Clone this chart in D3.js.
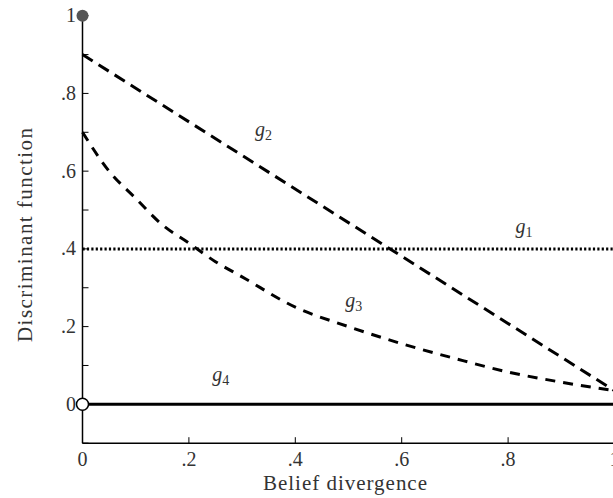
<!DOCTYPE html>
<meta charset="utf-8">
<style>
  body { margin: 0; background: #fff; }
  svg text { font-family: "Liberation Serif", "DejaVu Serif", serif; fill: #333; }
</style>
<body>
<script src="https://d3js.org/d3.v7.min.js"></script>
<script>
  // data
  var xTicks = [0, 0.2, 0.4, 0.6, 0.8, 1];
  var xTickLabels = ["0", ".2", ".4", ".6", ".8", "1"];
  var yTicks = [0, 0.2, 0.4, 0.6, 0.8, 1];
  var yTickLabels = ["0", ".2", ".4", ".6", ".8", "1"];
  var yMinorTicks = [-0.1, 0.1, 0.3, 0.5, 0.7, 0.9];

  var g1 = [[0, 0.4], [1, 0.4]];
  var g2 = [[0, 0.9], [1, 0.035]];
  var g3 = [[0, 0.70], [0.05, 0.60], [0.1, 0.53], [0.15, 0.462], [0.2, 0.415], [0.25, 0.367],
            [0.3, 0.328], [0.4, 0.25], [0.5, 0.20], [0.6, 0.156], [0.7, 0.118],
            [0.8, 0.083], [0.9, 0.057], [1, 0.035]];
  var g4 = [[0, 0], [1, 0]];

  var labels = [
    { sub: "2", x: 0.34, y: 0.69 },
    { sub: "1", x: 0.83, y: 0.44 },
    { sub: "3", x: 0.51, y: 0.25 },
    { sub: "4", x: 0.26, y: 0.06 }
  ];

  var W = 613, H = 498;
  var x = d3.scaleLinear().domain([0, 1]).range([82.5, 614.5]);
  var y = d3.scaleLinear().domain([-0.1, 1]).range([443.2, 15.7]);

  var svg = d3.select("body").append("svg")
    .attr("width", W).attr("height", H);

  // axes
  svg.append("line")
    .attr("x1", x(0)).attr("x2", x(1))
    .attr("y1", y(-0.1)).attr("y2", y(-0.1))
    .attr("stroke", "#000").attr("stroke-width", 1.5);
  svg.append("line")
    .attr("x1", x(0)).attr("x2", x(0))
    .attr("y1", y(-0.1)).attr("y2", y(1))
    .attr("stroke", "#000").attr("stroke-width", 1.5);

  // x ticks
  svg.selectAll(".xt").data(xTicks).enter().append("line")
    .attr("x1", function (d) { return x(d); }).attr("x2", function (d) { return x(d); })
    .attr("y1", y(-0.1)).attr("y2", y(-0.1) - 6)
    .attr("stroke", "#000").attr("stroke-width", 1);
  svg.selectAll(".xl").data(xTicks).enter().append("text")
    .attr("x", function (d) { return x(d); })
    .attr("y", 466)
    .attr("text-anchor", "middle")
    .style("font-size", "20px")
    .text(function (d, i) { return xTickLabels[i]; });

  // y ticks
  svg.selectAll(".yt").data(yTicks.concat(yMinorTicks)).enter().append("line")
    .attr("x1", x(0)).attr("x2", x(0) + 6)
    .attr("y1", function (d) { return y(d); }).attr("y2", function (d) { return y(d); })
    .attr("stroke", "#000").attr("stroke-width", 1);
  svg.selectAll(".yl").data(yTicks).enter().append("text")
    .attr("x", 76)
    .attr("y", function (d) { return y(d) + 6.5; })
    .attr("text-anchor", "end")
    .style("font-size", "20px")
    .text(function (d, i) { return yTickLabels[i]; });

  // axis titles
  svg.append("text")
    .attr("x", 345).attr("y", 490)
    .attr("text-anchor", "middle")
    .attr("textLength", 164).attr("lengthAdjust", "spacing")
    .style("font-size", "21px")
    .text("Belief divergence");
  svg.append("text")
    .attr("transform", "translate(32,235) rotate(-90)")
    .attr("text-anchor", "middle")
    .attr("textLength", 214).attr("lengthAdjust", "spacing")
    .style("font-size", "21px")
    .text("Discriminant function");

  // curves
  var line = d3.line()
    .x(function (d) { return x(d[0]); })
    .y(function (d) { return y(d[1]); })
    .curve(d3.curveMonotoneX);

  svg.append("path").datum(g4).attr("d", line)
    .attr("fill", "none").attr("stroke", "#000").attr("stroke-width", 3);
  svg.append("path").datum(g1).attr("d", line)
    .attr("fill", "none").attr("stroke", "#000").attr("stroke-width", 3)
    .attr("stroke-dasharray", "2.2,2.2");
  svg.append("path").datum(g2).attr("d", line)
    .attr("fill", "none").attr("stroke", "#000").attr("stroke-width", 3)
    .attr("stroke-dasharray", "12,7");
  svg.append("path").datum(g3).attr("d", line)
    .attr("fill", "none").attr("stroke", "#000").attr("stroke-width", 3)
    .attr("stroke-dasharray", "10,8");

  // end points
  svg.append("circle")
    .attr("cx", x(0)).attr("cy", y(1)).attr("r", 6)
    .attr("fill", "#555");
  svg.append("circle")
    .attr("cx", x(0)).attr("cy", y(0)).attr("r", 6)
    .attr("fill", "#fff").attr("stroke", "#000").attr("stroke-width", 1.5);

  // curve labels
  labels.forEach(function (l) {
    var t = svg.append("text")
      .attr("x", x(l.x)).attr("y", y(l.y))
      .attr("text-anchor", "middle")
      .style("font-size", "20px");
    t.append("tspan").style("font-style", "italic").text("g");
    t.append("tspan").attr("dy", 4).style("font-size", "14px").text(l.sub);
  });
</script>
</body>
